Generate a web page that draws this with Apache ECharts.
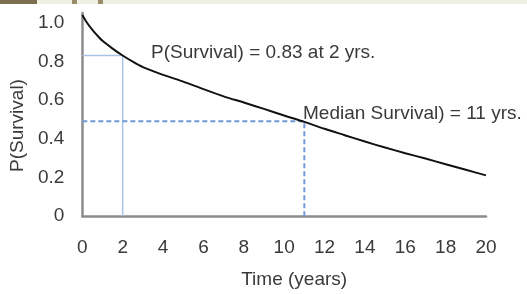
<!DOCTYPE html>
<html>
<head>
<meta charset="utf-8">
<script src="https://cdn.jsdelivr.net/npm/echarts@6/dist/echarts.min.js"></script>
<style>
html,body{margin:0;padding:0;background:#fff;}
#chart{width:527px;height:294px;}
</style>
</head>
<body>
<div id="chart"></div>
<script>
// ---- data ----
const times =    [0, 0.25, 0.5, 0.75, 1, 1.5, 2, 2.5, 3, 4, 5, 6, 7, 8, 9, 10, 11, 12, 13, 14, 15, 16, 17, 18, 19, 20];
const survival = [1.04, 0.997, 0.963, 0.933, 0.906, 0.866, 0.83, 0.798, 0.77, 0.73, 0.695, 0.656, 0.619, 0.587, 0.554, 0.52, 0.487, 0.451, 0.418, 0.385, 0.354, 0.325, 0.297, 0.268, 0.239, 0.21];
const refTime = 2;
const refSurvival = 0.83;
const medianTime = 11;
const medianLevel = 0.49;
const xTicks = [0, 2, 4, 6, 8, 10, 12, 14, 16, 18, 20];
const yTicks = [0, 0.2, 0.4, 0.6, 0.8, 1.0];
const annotation1 = 'P(Survival) = 0.83 at 2 yrs.';
const annotation2 = 'Median Survival) = 11 yrs.';
const xTitle = 'Time (years)';
const yTitle = 'P(Survival)';

const FONT = '"Liberation Sans", Arial, sans-serif';
const TXT = '#3a3a3a';
const FS = 19;

const chart = echarts.init(document.getElementById('chart'), null, {renderer: 'canvas'});
const curve = times.map((t, i) => [t, survival[i]]);

chart.setOption({
  animation: false,
  backgroundColor: '#ffffff',
  grid: {left: 81, top: 13, width: 405, height: 206},
  xAxis: {
    type: 'value',
    min: xTicks[0], max: xTicks[xTicks.length - 1], interval: 2,
    name: xTitle, nameLocation: 'middle', nameGap: 54,
    nameTextStyle: {fontFamily: FONT, fontSize: FS, color: TXT, padding: [0, 0, 0, 20]},
    axisLine: {show: true, lineStyle: {color: '#8c8c8c', width: 2.5}},
    axisTick: {show: false},
    splitLine: {show: false},
    axisLabel: {fontFamily: FONT, fontSize: FS, color: TXT, margin: 22}
  },
  yAxis: {
    type: 'value',
    min: yTicks[0], max: 1.05, interval: 0.2,
    name: yTitle, nameLocation: 'middle', nameGap: 54, nameRotate: 90,
    nameTextStyle: {fontFamily: FONT, fontSize: FS, color: TXT, padding: [0, 22, 0, 0]},
    axisLine: {show: true, lineStyle: {color: '#8c8c8c', width: 2.5}},
    axisTick: {show: false},
    splitLine: {show: false},
    axisLabel: {
      fontFamily: FONT, fontSize: FS, color: TXT, margin: 18,
      showMaxLabel: false,
      formatter: v => (Math.abs(v) < 1e-9 ? '0' : (yTicks.some(t => Math.abs(t - v) < 1e-9) ? v.toFixed(1) : ''))
    }
  },
  series: [
    {
      type: 'line',
      data: [[0, refSurvival], [refTime, refSurvival], [refTime, 0]],
      showSymbol: false,
      lineStyle: {color: '#a9c3e8', width: 1.5},
      z: 2
    },
    {
      type: 'line',
      data: [[0, medianLevel], [medianTime, medianLevel], [medianTime, 0]],
      showSymbol: false,
      lineStyle: {color: '#6f9bd8', width: 2, type: [5, 3]},
      z: 2
    },
    {
      type: 'line',
      data: curve,
      smooth: 0.25,
      showSymbol: false,
      lineStyle: {color: '#111111', width: 2},
      z: 3
    }
  ],
  graphic: [
    {type: 'rect', left: 0, top: 0, shape: {width: 527, height: 4}, style: {fill: '#eef1e1'}, silent: true},
    {type: 'rect', left: 0, top: 0, shape: {width: 37, height: 4}, style: {fill: '#7d6e4f'}, silent: true},
    {type: 'rect', left: 72, top: 0, shape: {width: 5, height: 4}, style: {fill: '#9a8c68'}, silent: true},
    {type: 'rect', left: 98, top: 0, shape: {width: 5, height: 4}, style: {fill: '#9a8c68'}, silent: true},
    {type: 'text', left: 151, top: 43, style: {text: annotation1, fontFamily: FONT, fontSize: FS, fill: TXT}},
    {type: 'text', left: 303, top: 104, style: {text: annotation2, fontFamily: FONT, fontSize: FS, fill: TXT}}
  ]
});
</script>
</body>
</html>
